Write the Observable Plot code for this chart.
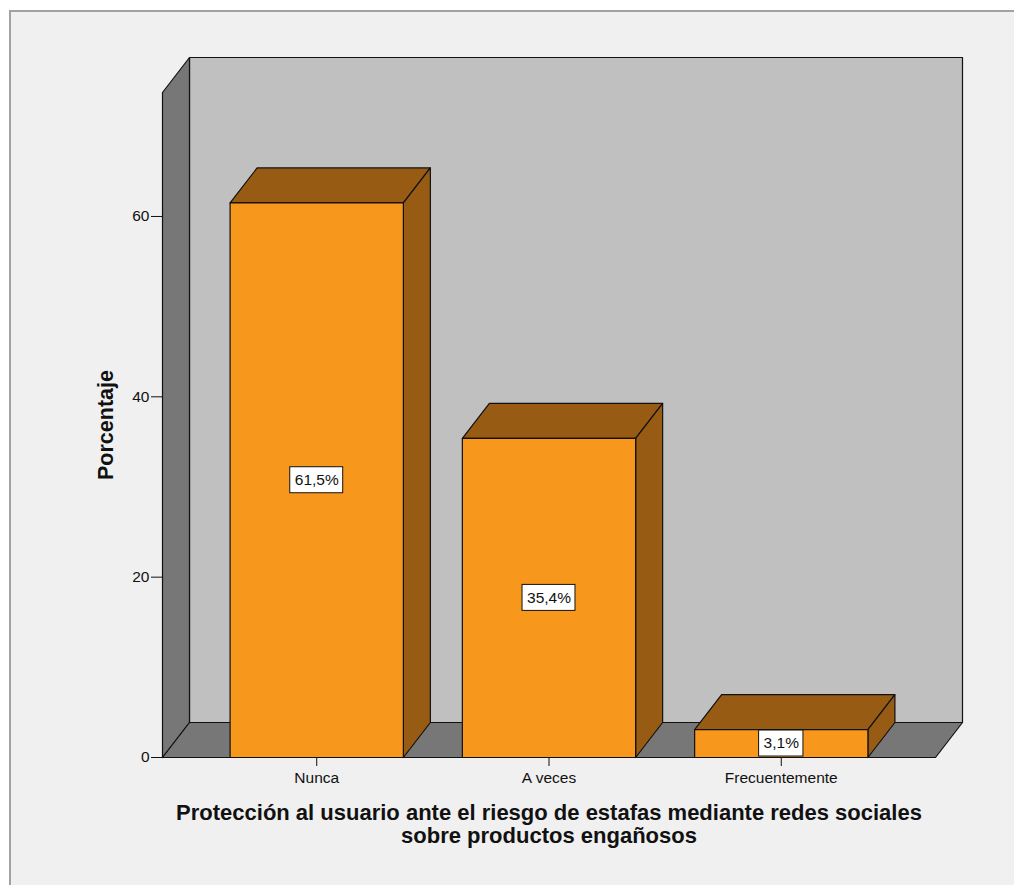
<!DOCTYPE html>
<html lang="es">
<head>
<meta charset="utf-8">
<title>Protección al usuario ante el riesgo de estafas</title>
<script src="https://cdn.jsdelivr.net/npm/d3@7"></script>
<script src="https://cdn.jsdelivr.net/npm/@observablehq/plot@0.6"></script>
<style>
  html, body { margin: 0; padding: 0; background: #ffffff; overflow: hidden; }
  #panel {
    position: absolute; left: 9px; top: 10px; width: 1100px; height: 1000px;
    background: #f0f0f0; border-left: 2px solid #a2a2a2; border-top: 2px solid #a2a2a2;
  }
  #chart { position: absolute; left: 0; top: 0; }
</style>
</head>
<body>
<div id="panel"></div>
<div id="chart"></div>
<script>
// Frequency table: percentage of answers per category
const categories = ["Nunca", "A veces", "Frecuentemente"];
const percentages = [61.5, 35.4, 3.1];
const yTicks = [0, 20, 40, 60];
const yMax = 73.75;
const xTitle = "Protección al usuario ante el riesgo de estafas mediante redes sociales\nsobre productos engañosos";
const yTitle = "Porcentaje";

// Layout of the pseudo-3D box
const W = 1014, H = 885;
const margin = {left: 162, right: 79, top: 92, bottom: 128};
const depthPx = {x: 27, y: 35};   // offset of the back plane, in pixels
const outerPad = 0.164;           // room between the walls and the outer bars, in category steps
const barHalf = 0.373;            // half bar width, in category steps

const xMin = -0.5 - outerPad;
const xMax = categories.length - 0.5 + outerPad;
const kx = (W - margin.left - margin.right) / (xMax - xMin);
const ky = (H - margin.top - margin.bottom) / yMax;
const dX = depthPx.x / kx;
const dY = depthPx.y / ky;

const orange = "#f7981d", brown = "#975b14", wallLight = "#c0c0c0", wallDark = "#777777";
const edge = {stroke: "#111", strokeWidth: 1.2, strokeLinejoin: "round"};

// Closed polygon as a list of points sharing an id
function poly(id, pts) {
  return [...pts, pts[0]].map(([x, y]) => ({id, x, y}));
}

const backWall = poly("back", [[xMin + dX, dY], [xMax + dX, dY], [xMax + dX, yMax + dY], [xMin + dX, yMax + dY]]);
const darkWalls = [
  ...poly("left", [[xMin, 0], [xMin + dX, dY], [xMin + dX, yMax + dY], [xMin, yMax]]),
  ...poly("floor", [[xMin, 0], [xMin + dX, dY], [xMax + dX, dY], [xMax, 0]])
];

const bars = categories.map((c, i) => ({c, i, v: percentages[i], L: i - barHalf, R: i + barHalf}));
const barShading = bars.flatMap(({c, v, L, R}) => [
  ...poly(c + "-top", [[L, v], [L + dX, v + dY], [R + dX, v + dY], [R, v]]),
  ...poly(c + "-side", [[R, 0], [R + dX, dY], [R + dX, v + dY], [R, v]])
]);
const barFronts = bars.flatMap(({c, v, L, R}) => poly(c + "-front", [[L, 0], [R, 0], [R, v], [L, v]]));

// Value labels in white boxes at mid-height
const fmt = (v) => v.toFixed(1).replace(".", ",") + "%";
const ctx = document.createElement("canvas").getContext("2d");
ctx.font = "15.5px 'Liberation Sans', Arial, sans-serif";
const labels = bars.map(({i, v}) => {
  const text = fmt(v);
  const w = ctx.measureText(text).width + 9;
  return {text, x: i, y: v / 2, x1: i - w / 2 / kx, x2: i + w / 2 / kx, y1: v / 2 - 13 / ky, y2: v / 2 + 13 / ky};
});

const chart = Plot.plot({
  width: W,
  height: H,
  marginLeft: margin.left,
  marginRight: margin.right,
  marginTop: margin.top,
  marginBottom: margin.bottom,
  style: {background: "transparent", fontFamily: "'Liberation Sans', Arial, sans-serif", fontSize: "15.5px", overflow: "visible", color: "#111"},
  x: {domain: [xMin, xMax], ticks: categories.map((_, i) => i), tickFormat: (i) => categories[i], tickSize: 9, tickPadding: 5, label: null},
  y: {domain: [0, yMax], ticks: yTicks, tickFormat: (d) => String(d), tickSize: 11, tickPadding: 2, label: null},
  marks: [
    Plot.line(backWall, {x: "x", y: "y", z: "id", fill: wallLight, ...edge}),
    Plot.line(darkWalls, {x: "x", y: "y", z: "id", fill: wallDark, ...edge}),
    Plot.line(barShading, {x: "x", y: "y", z: "id", fill: brown, ...edge}),
    Plot.line(barFronts, {x: "x", y: "y", z: "id", fill: orange, ...edge}),
    Plot.rect(labels, {x1: "x1", x2: "x2", y1: "y1", y2: "y2", fill: "white", stroke: "#111", strokeWidth: 1}),
    Plot.text(labels, {x: "x", y: "y", text: "text", fill: "#111", fontSize: 15.5}),
    Plot.text([xTitle], {frameAnchor: "bottom", lineAnchor: "top", dy: 47, lineHeight: 1.02, fontSize: 22, fontWeight: "bold", fill: "#111"}),
    Plot.text([yTitle], {frameAnchor: "left", textAnchor: "middle", rotate: -90, dx: -56, fontSize: 21.5, fontWeight: "bold", fill: "#111"})
  ]
});

document.getElementById("chart").appendChild(chart);
</script>
</body>
</html>
